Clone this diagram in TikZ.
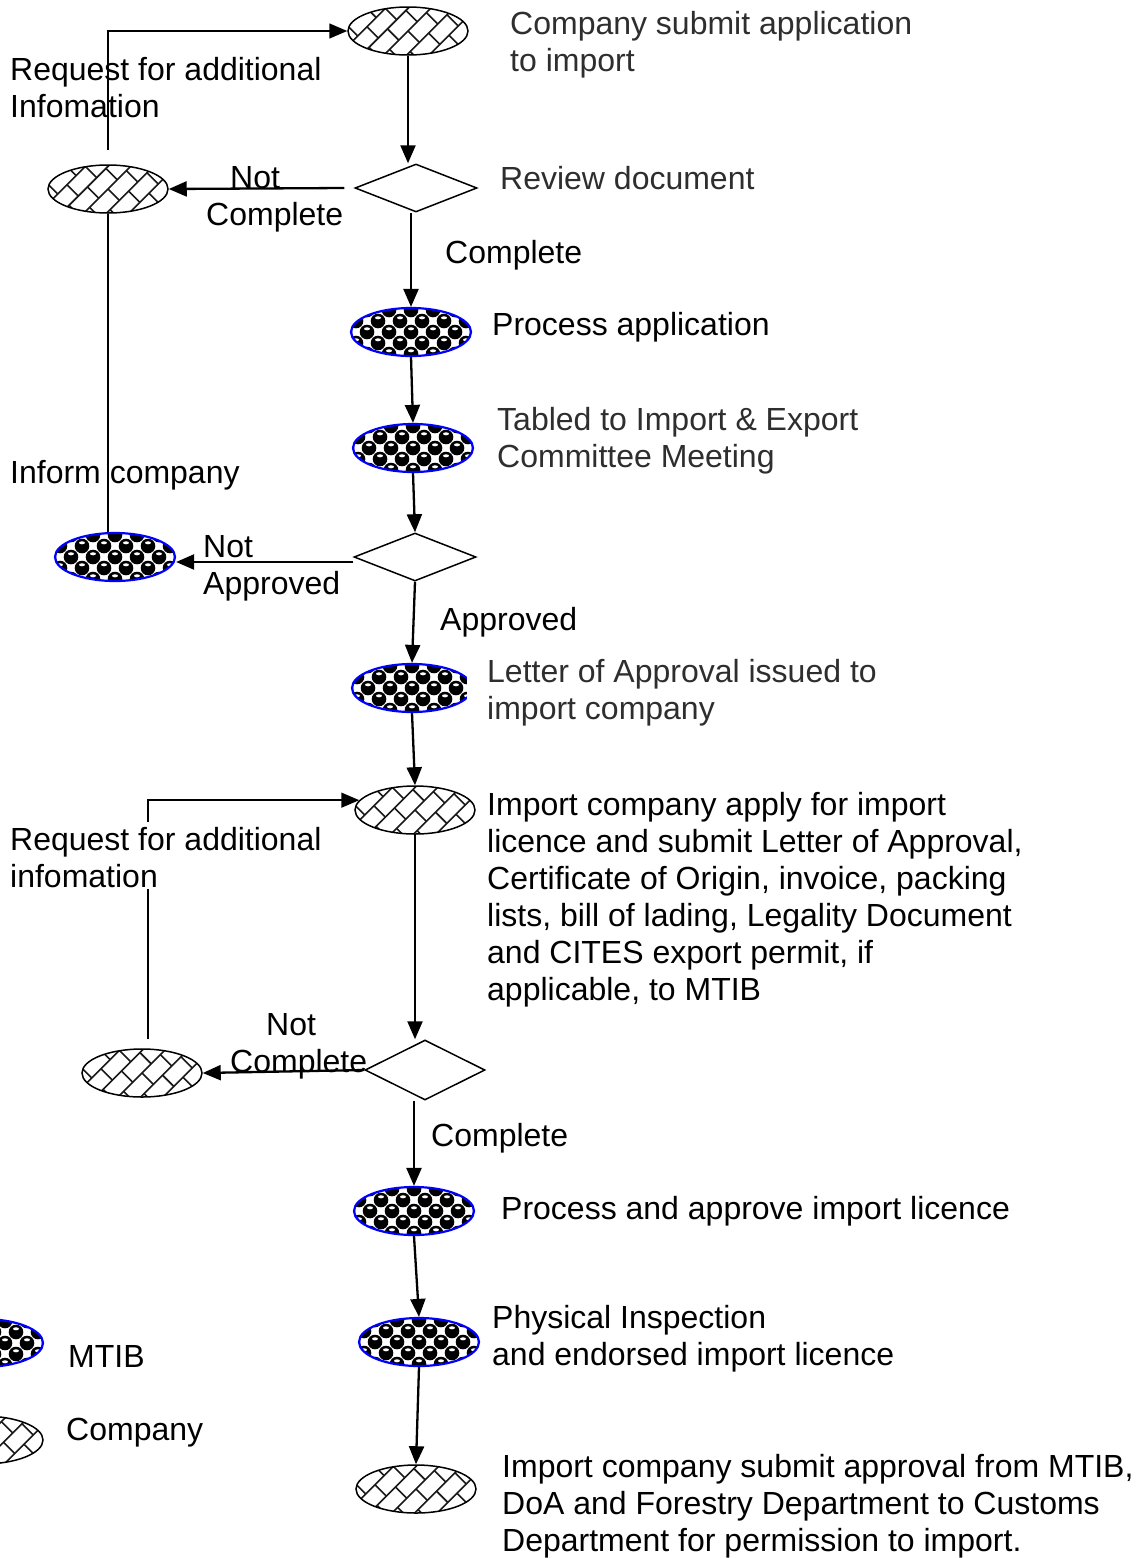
\documentclass[tikz,border=0pt]{standalone}
\usepackage{fontspec}
\setmainfont{Liberation Sans}
\usetikzlibrary{shapes.geometric,arrows.meta,calc}
\begin{document}
\begin{tikzpicture}[x=1pt,y=-1pt,
  mtib/.style={ellipse, draw=blue, line width=2.2pt, minimum width=120pt, minimum height=48pt, inner sep=0pt,
    path picture={\begin{scope}[shift={(path picture bounding box.center)}]
      \fill[white] (-65,-28) rectangle (65,28);
      \foreach \j in {-3,...,3}{\foreach \i in {-4,...,4}{
        \pgfmathsetmacro\xx{22*\i+11*Mod(\j,2)}
        \fill[black] (\xx,11*\j) circle (7.3);
        \fill[white] (\xx,11*\j-3.2) ellipse (3.0 and 1.5);
      }}
    \end{scope}}},
  comp/.style={ellipse, draw=black, line width=1.5pt, minimum width=120pt, minimum height=48pt, inner sep=0pt,
    path picture={\begin{scope}[shift={(path picture bounding box.center)}, x={(0.7071pt,0.7071pt)}, y={(0.7071pt,-0.7071pt)}]
      \foreach \k in {-6,...,6}{
        \draw[black!90, line width=1.6pt] (-90,16*\k) -- (90,16*\k);
        \foreach \m in {-4,...,4}{
          \pgfmathsetmacro\uu{26*\m+13*Mod(\k,2)}
          \draw[black!90, line width=1.6pt] (\uu,16*\k) -- (\uu,16*\k+16);
        }
      }
    \end{scope}}},
  dec/.style={diamond, draw=black, line width=1.5pt, minimum width=122pt, minimum height=48pt, inner sep=0pt, aspect=2.5},
  arr/.style={draw=black, line width=2.3pt, -{Triangle[length=18pt,width=15pt]}},
  fb/.style={draw=black, line width=1.5pt},
  fbarr/.style={fb, -{Triangle[length=18pt,width=15pt]}},
  txt/.style={font=\fontsize{32}{37}\selectfont, inner sep=0pt, align=left, anchor=north west},
  gtxt/.style={txt, text=black!82}
]
\useasboundingbox (0,0) rectangle (1140,1558);

% shapes
\node[comp] (E1) at (408,31) {};
\node[dec]  (D1) at (416,188) {};
\node[comp] (E2) at (108,189) {};
\node[mtib] (E4) at (411,332) {};
\node[mtib] (E5) at (413,448) {};
\node[dec]  (D2) at (415,557) {};
\node[mtib] (E3) at (115,557) {};
\node[mtib] (E6) at (412,688) {};
\node[comp] (E7) at (415,810) {};
\node[dec, minimum height=60pt, minimum width=120pt] (D3) at (425,1070) {};
\node[comp] (E8) at (142,1073) {};
\node[mtib] (E9) at (414,1211) {};
\node[mtib] (E10) at (419,1342) {};
\node[comp] (E11) at (416,1489) {};
\node[mtib] (LM) at (-17,1343) {};
\node[comp] (LC) at (-17,1440) {};

% connectors
\draw[arr] (E1.south) -- (E1.south |- D1.north);
\draw[arr] ([xshift=-10pt]D1.west) -- (E2.east);
\draw[fbarr] ([yshift=14pt]E2.north) |- (E1.west);
\draw[fb] (E2.south) -- (E2.south |- E3.north);
\draw[arr] (E4.north |- D1.south) -- (E4.north);
\draw[arr] (E4.south) -- (E5.north);
\draw[arr] (E5.south) -- (D2.north);
\draw[arr] ([yshift=-5pt]D2.west) -- ([yshift=-5pt]E3.east);
\draw[arr] (D2.south) -- (E6.north);
\draw[arr] (E6.south) -- (E7.north);
\draw[arr] (E7.south) -- (E7.south |- D3.north);
\draw[arr] (D3.west) -- (E8.east);
\draw[fbarr] ([xshift=6pt,yshift=9pt]E8.north) |- (E7.170);
\draw[arr] (E9.north |- D3.south) -- (E9.north);
\draw[arr] (E9.south) -- (E10.north);
\draw[arr] (E10.south) -- (E11.north);

% texts
\node[gtxt] (t1) at (510,8) {\strut Company submit application\\to import};
\node[gtxt] (t2) at (500,163) {\strut Review document};
\node[txt]  (t3) at (445,237) {\strut Complete};
\node[txt]  (t4) at (492,309) {\strut Process application};
\node[gtxt] (t5) at (497,404) {\strut Tabled to Import \& Export\\Committee Meeting};
\node[gtxt, fill=white, inner xsep=20pt] (t6) at (467,656) {\strut Letter of Approval issued to\\import company};
\node[txt]  (t7) at (487,789) {\strut Import company apply for import\\licence and submit Letter of Approval,\\Certificate of Origin, invoice, packing\\lists, bill of lading, Legality Document\\and CITES export permit, if\\applicable, to MTIB};
\node[txt]  (t8) at (501,1193) {\strut Process and approve import licence};
\node[txt]  (t9) at (492,1302) {\strut Physical Inspection\\and endorsed import licence};
\node[txt]  (t10) at (502,1451) {\strut Import company submit approval from MTIB,\\DoA and Forestry Department to Customs\\Department for permission to import.};
\node[txt]  (t11) at (68,1341) {\strut MTIB};
\node[txt]  (t12) at (66,1414) {\strut Company};

\node[txt] (l1) at (10,54) {\strut Request for additional\\Infomation};
\node[txt] (l2) at (206,162) {\strut\hspace*{24pt}Not\\Complete};
\node[txt] (l3) at (10,457) {\strut Inform company};
\node[txt] (l4) at (203,531) {\strut Not\\Approved};
\node[txt] (l5) at (440,604) {\strut Approved};
\node[txt, fill=white, inner sep=2pt] (l6) at (8,822) {\strut Request for additional\\infomation};
\node[txt] (l7) at (230,1009) {\strut\hspace*{36pt}Not\\Complete};
\node[txt] (l8) at (431,1120) {\strut Complete};
\end{tikzpicture}
\end{document}
